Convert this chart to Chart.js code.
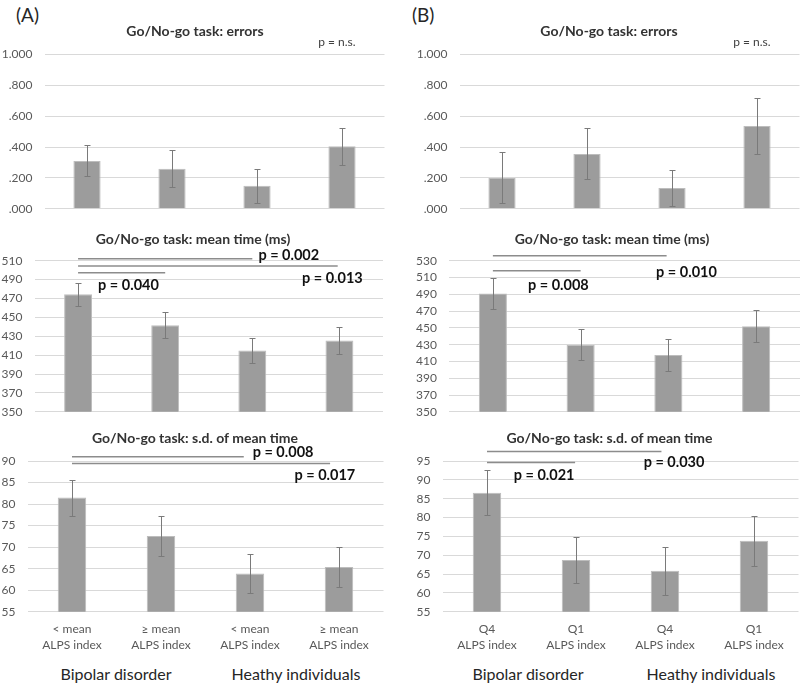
<!DOCTYPE html>
<html>
<head>
<meta charset="utf-8">
<script src="https://cdn.jsdelivr.net/npm/chart.js@4.4.0/dist/chart.umd.min.js"></script>
<style>
body { margin:0; background:#fff; width:800px; height:685px; position:relative; overflow:hidden; font-family:Lato, sans-serif; }
canvas { position:absolute; }
.lbl { position:absolute; color:#262626; white-space:nowrap; }
.ttl { position:absolute; color:#333; white-space:nowrap; font-size:14px; font-weight:bold; line-height:17px; transform:translateX(-50%); }
.grp { position:absolute; color:#262626; white-space:nowrap; font-size:16px; transform:translateX(-50%); top:664px; }
</style>
</head>
<body>
<div class="lbl" style="left:16px;top:3px;font-size:19px;">(A)</div>
<div class="lbl" style="left:412px;top:3px;font-size:19px;">(B)</div>

<canvas id="cA1" width="390" height="213" style="left:0;top:15px"></canvas>
<canvas id="cB1" width="400" height="213" style="left:400px;top:15px"></canvas>
<canvas id="cA2" width="390" height="209" style="left:0;top:222px"></canvas>
<canvas id="cB2" width="400" height="209" style="left:400px;top:222px"></canvas>
<canvas id="cA3" width="390" height="235" style="left:0;top:420px"></canvas>
<canvas id="cB3" width="400" height="235" style="left:400px;top:420px"></canvas>

<div class="ttl" id="tA1" style="left:195px;top:21.5px"></div>
<div class="ttl" id="tB1" style="left:609px;top:21.5px"></div>
<div class="ttl" id="tA2" style="left:193px;top:229.5px"></div>
<div class="ttl" id="tB2" style="left:612px;top:229.5px"></div>
<div class="ttl" id="tA3" style="left:195px;top:428.5px"></div>
<div class="ttl" id="tB3" style="left:609.5px;top:428.5px"></div>

<div class="grp" style="left:116px">Bipolar disorder</div>
<div class="grp" style="left:296px">Heathy individuals</div>
<div class="grp" style="left:528px">Bipolar disorder</div>
<div class="grp" style="left:711px">Heathy individuals</div>

<script>
// categories
var labelsA = [["< mean", "ALPS index"], ["\u2265 mean", "ALPS index"], ["< mean", "ALPS index"], ["\u2265 mean", "ALPS index"]];
var labelsB = [["Q4", "ALPS index"], ["Q1", "ALPS index"], ["Q4", "ALPS index"], ["Q1", "ALPS index"]];

// errors
var errorsA = [0.31, 0.26, 0.15, 0.405];
var errorsA_sd = [0.10, 0.12, 0.11, 0.12];
var errorsB = [0.20, 0.355, 0.135, 0.536];
var errorsB_sd = [0.165, 0.165, 0.115, 0.18];

// mean time (ms)
var meanA = [474.5, 441.7, 415, 425.4];
var meanA_sd = [12.3, 14, 13, 14];
var meanB = [490.9, 430, 417.7, 452];
var meanB_sd = [18, 18.5, 19.5, 19.4];

// s.d. of mean time
var sdA = [81.5, 72.6, 63.9, 65.4];
var sdA_sd = [4.2, 4.7, 4.5, 4.7];
var sdB = [86.6, 68.7, 65.9, 73.8];
var sdB_sd = [6, 6.1, 6.4, 6.6];

var titles = ["Go/No-go task: errors", "Go/No-go task: mean time (ms)", "Go/No-go task: s.d. of mean time"];

// error bars drawn from the value +- sd
var errorBars = {
    id: "errorBars",
    afterDatasetsDraw: function(chart, args, opts) {
        var ys = chart.scales.y, ctx = chart.ctx;
        var vals = chart.data.datasets[0].data;
        ctx.save();
        ctx.strokeStyle = "#7a7a7a";
        ctx.lineWidth = 1;
        chart.getDatasetMeta(0).data.forEach(function(bar, i) {
            var x = Math.round(bar.x) + 0.5;
            var y1 = Math.round(ys.getPixelForValue(vals[i] + opts.err[i])) + 0.5;
            var y2 = Math.round(ys.getPixelForValue(vals[i] - opts.err[i])) + 0.5;
            ctx.beginPath();
            ctx.moveTo(x, y1); ctx.lineTo(x, y2);
            ctx.moveTo(x - 3, y1); ctx.lineTo(x + 3, y1);
            ctx.moveTo(x - 3, y2); ctx.lineTo(x + 3, y2);
            ctx.stroke();
        });
        ctx.restore();
    }
};

// significance lines and p values
var sigNotes = {
    id: "sigNotes",
    afterDraw: function(chart, args, opts) {
        var xs = chart.scales.x, ys = chart.scales.y, ctx = chart.ctx;
        var p0 = xs.getPixelForValue(0), step = xs.getPixelForValue(1) - p0;
        function px(v) { return p0 + v * step; }
        ctx.save();
        ctx.strokeStyle = "#8c8c8c";
        ctx.lineWidth = 1.5;
        (opts.lines || []).forEach(function(l) {
            var y = ys.getPixelForValue(l.y);
            ctx.beginPath();
            ctx.moveTo(px(l.from), y);
            ctx.lineTo(px(l.to), y);
            ctx.stroke();
        });
        ctx.textBaseline = "middle";
        ctx.textAlign = "left";
        (opts.texts || []).forEach(function(t) {
            ctx.fillStyle = t.bold ? "#111" : "#404040";
            ctx.font = (t.bold ? "bold 14.5px" : "12px") + " Lato, sans-serif";
            ctx.fillText(t.text, px(t.x), ys.getPixelForValue(t.y));
        });
        ctx.restore();
    }
};

function makeChart(id, cfg) {
    document.getElementById("t" + id.substring(1)).textContent = cfg.title;
    return new Chart(document.getElementById(id), {
        type: "bar",
        data: {
            labels: cfg.labels,
            datasets: [{
                data: cfg.data,
                backgroundColor: "#9c9c9c",
                borderColor: "#bdbdbd",
                borderWidth: 1,
                categoryPercentage: 1,
                barPercentage: 0.32
            }]
        },
        options: {
            responsive: false,
            animation: false,
            layout: { padding: cfg.pad },
            plugins: {
                legend: { display: false },
                tooltip: { enabled: false },
                title: { display: false },
                errorBars: { err: cfg.err },
                sigNotes: cfg.notes
            },
            scales: {
                x: {
                    display: cfg.showX,
                    grid: { display: false, drawTicks: false },
                    border: { display: false },
                    ticks: { color: "#595959", padding: 9, font: { family: "Lato", size: 12, lineHeight: 1.33 } },
                    afterFit: function(s) { if (cfg.showX) { s.height = 43.3; } }
                },
                y: {
                    min: cfg.min, max: cfg.max,
                    grid: { color: "#d9d9d9", drawTicks: false },
                    border: { display: false },
                    ticks: {
                        stepSize: cfg.step,
                        autoSkip: false,
                        color: "#595959",
                        padding: 12,
                        font: { family: "Lato", size: 12 },
                        callback: cfg.fmt
                    },
                    afterFit: function(s) { s.width = cfg.yWidth; }
                }
            }
        },
        plugins: [errorBars, sigNotes]
    });
}

function fmtErr(v) {
    var s = v.toFixed(3);
    return s.charAt(0) === "0" ? s.substring(1) : s;
}
function fmtInt(v) { return String(v); }

makeChart("cA1", {
    labels: labelsA, data: errorsA, err: errorsA_sd, title: titles[0],
    min: 0, max: 1, step: 0.2, fmt: fmtErr, yWidth: 44.5,
    pad: { left: 0, right: 5.5, top: 39.3, bottom: 3.4 }, showX: false,
    notes: { texts: [{ x: 2.72, y: 1.08, text: "p = n.s." }] }
});
makeChart("cB1", {
    labels: labelsB, data: errorsB, err: errorsB_sd, title: titles[0],
    min: 0, max: 1, step: 0.2, fmt: fmtErr, yWidth: 59.5,
    pad: { left: 0, right: 0.5, top: 39.3, bottom: 3.4 }, showX: false,
    notes: { texts: [{ x: 2.72, y: 1.08, text: "p = n.s." }] }
});
makeChart("cA2", {
    labels: labelsA, data: meanA, err: meanA_sd, title: titles[1],
    min: 350, max: 510, step: 20, fmt: fmtInt, yWidth: 34.5,
    pad: { left: 0, right: 7, top: 38.7, bottom: 3.6 }, showX: false,
    notes: {
        lines: [{ from: 0, to: 2, y: 512 }, { from: 0, to: 2.98, y: 504.3 }, { from: 0, to: 1, y: 497.2 }],
        texts: [
            { x: 2.07, y: 516, text: "p = 0.002", bold: true },
            { x: 0.23, y: 484, text: "p = 0.040", bold: true },
            { x: 2.57, y: 491.5, text: "p = 0.013", bold: true }
        ]
    }
});
makeChart("cB2", {
    labels: labelsB, data: meanB, err: meanB_sd, title: titles[1],
    min: 350, max: 530, step: 20, fmt: fmtInt, yWidth: 49,
    pad: { left: 0, right: 0, top: 38.7, bottom: 3.6 }, showX: false,
    notes: {
        lines: [{ from: 0, to: 1.98, y: 536 }, { from: 0, to: 1, y: 518 }],
        texts: [
            { x: 0.40, y: 500.8, text: "p = 0.008", bold: true },
            { x: 1.86, y: 516.4, text: "p = 0.010", bold: true }
        ]
    }
});
makeChart("cA3", {
    labels: labelsA, data: sdA, err: sdA_sd, title: titles[2],
    min: 55, max: 90, step: 5, fmt: fmtInt, yWidth: 27.5,
    pad: { left: 0, right: 6.5, top: 41, bottom: 0 }, showX: true,
    notes: {
        lines: [{ from: 0, to: 1.93, y: 91 }, { from: 0, to: 2.9, y: 89.4 }],
        texts: [
            { x: 2.03, y: 92.1, text: "p = 0.008", bold: true },
            { x: 2.5, y: 86.75, text: "p = 0.017", bold: true }
        ]
    }
});
makeChart("cB3", {
    labels: labelsB, data: sdB, err: sdB_sd, title: titles[2],
    min: 55, max: 95, step: 5, fmt: fmtInt, yWidth: 42.5,
    pad: { left: 0, right: 1.5, top: 41, bottom: 0 }, showX: true,
    notes: {
        lines: [{ from: 0, to: 1.96, y: 97.5 }, { from: 0, to: 0.99, y: 94.6 }],
        texts: [
            { x: 0.30, y: 91.3, text: "p = 0.021", bold: true },
            { x: 1.76, y: 94.7, text: "p = 0.030", bold: true }
        ]
    }
});
</script>
</body>
</html>
